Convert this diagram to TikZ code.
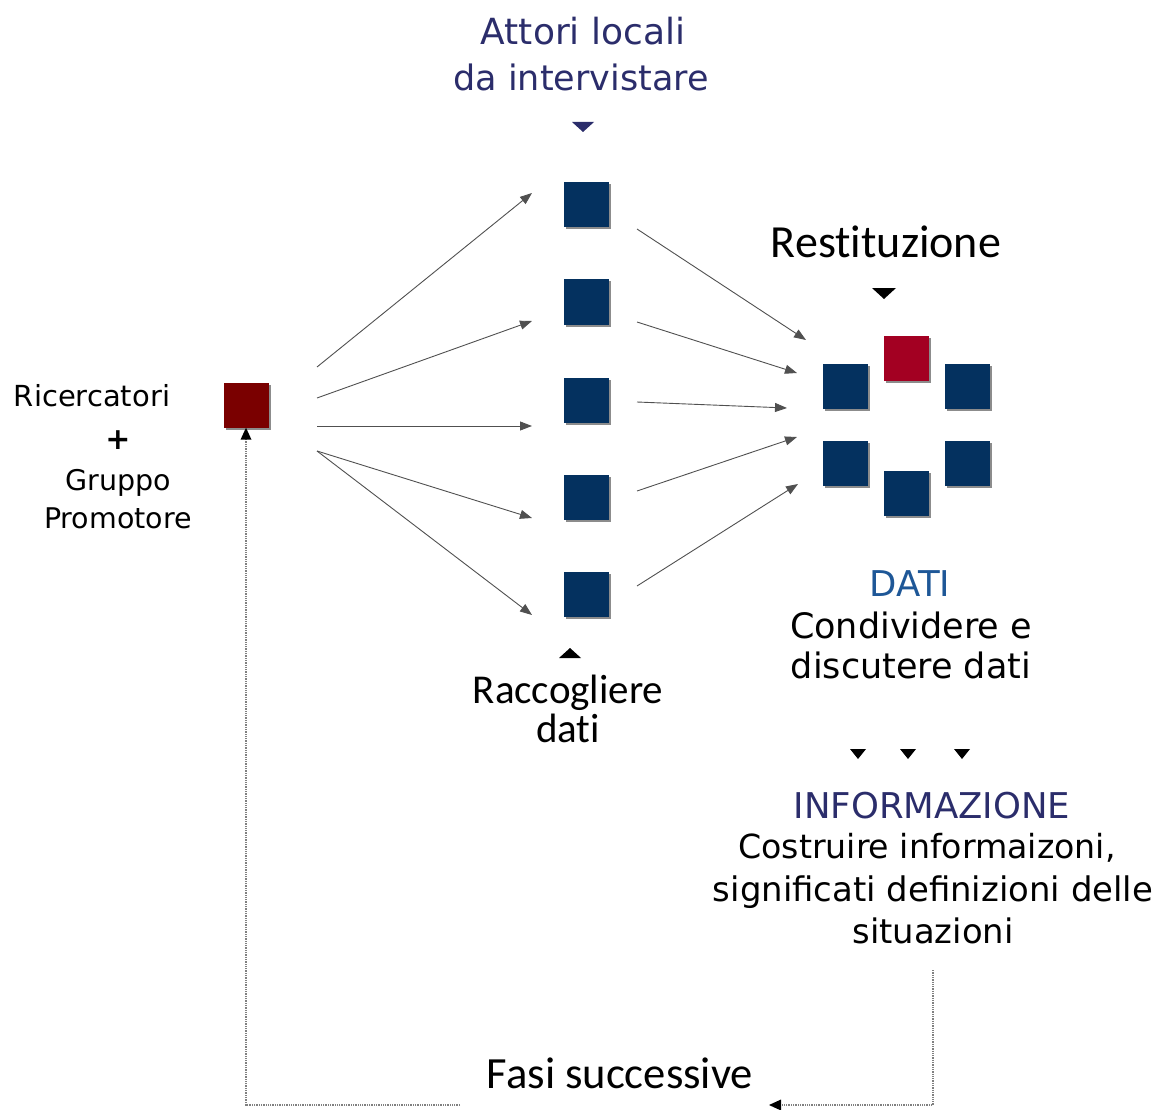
\documentclass[tikz,border=0pt]{standalone}
\usepackage{fontspec}
\setmainfont{DejaVu Sans}
\newfontfamily\calib[Ligatures=NoCommon]{Carlito}
\usetikzlibrary{arrows.meta,shadows,calc}
\definecolor{navy}{HTML}{2B2D6B}
\definecolor{sqblue}{HTML}{04315F}
\definecolor{sqdred}{HTML}{7A0000}
\definecolor{sqred}{HTML}{A30022}
\definecolor{datiblue}{HTML}{1E5797}
\definecolor{arrgray}{HTML}{505050}
\begin{document}
\begin{tikzpicture}[x=1pt,y=-1pt,
  sq/.style={minimum size=45pt, inner sep=0pt, draw=none,
    drop shadow={shadow xshift=2pt,shadow yshift=-2pt,opacity=0.45,fill=black}},
  bsq/.style={sq, fill=sqblue},
  lbl/.style={inner sep=0pt, anchor=base},
  fs/.style={font=\fontsize{#1}{#1}\selectfont},
  cfs/.style={font=\calib\fontsize{#1}{#1}\selectfont},
  arr/.style={draw=arrgray, line width=0.9pt, -{Triangle[length=12pt,width=9pt]}},
  fb/.style={draw=gray, line width=1.3pt, densely dotted},
  tri/.style={fill=black}
]
\useasboundingbox (0,0) rectangle (1157,1110);

% ---- squares
\node[sq, fill=sqdred] (r) at (246,405) {};
\foreach \i/\y in {1/205,2/302,3/400,4/497,5/594}
  \node[bsq] (c\i) at (586,\y) {};
\node[sq, fill=sqred] (k0) at (906,358) {};
\node[bsq] (k1) at (845,386) {};
\node[bsq] (k2) at (967,386) {};
\node[bsq] (k3) at (845,463) {};
\node[bsq] (k4) at (967,463) {};
\node[bsq] (k5) at (906,493) {};

% ---- texts
\node[lbl, fs=36, text=navy] (t1) at (583,45) {Attori locali};
\node[lbl, fs=35, text=navy] (t2) at (581,91) {da intervistare};
\node[lbl, cfs=46] (rest) at (886,258) {Restituzione};
\node[lbl, fs=29] (ric) at (92,406) {Ricercatori};
\node[font=\bfseries\fontsize{30}{30}\selectfont, inner sep=0pt] (plus) at (118,440) {+};
\node[lbl, fs=28.5] (grp) at (118,490) {Gruppo};
\node[lbl, fs=28.5] (prm) at (118,528) {Promotore};
\node[lbl, cfs=41] (racc) at (568,703) {Raccogliere};
\node[lbl, cfs=41] (rdati) at (568,742) {dati};
\node[lbl, fs=35.5, text=datiblue] (dati) at (910,596) {DATI};
\node[lbl, fs=35] (cond) at (911,638) {Condividere e};
\node[lbl, fs=35] (disc) at (911,678) {discutere dati};
\node[lbl, fs=35.5, text=navy] (info) at (932,818) {INFORMAZIONE};
\node[lbl, fs=33.2] (cos) at (927,858) {Costruire informaizoni,};
\node[lbl, fs=33.9] (sig) at (933,901) {significati definizioni delle};
\node[lbl, fs=33.8] (sit) at (933,943) {situazioni};
\node[lbl, cfs=44.6] (fasi) at (620,1088) {Fasi successive};

% ---- small triangles
\fill[navy] (572,122) -- (594,122) -- (583,132) -- cycle;
\fill[tri] (559,658) -- (581,658) -- (570,648) -- cycle;
\fill[tri] (872,288) -- (896,288) -- (884,299) -- cycle;
\foreach \x in {858,908,962}
  \fill[tri] (\x-8,749) -- (\x+8,749) -- (\x,759) -- cycle;

% ---- fan arrows to the column
\coordinate (fs1) at (317,367);
\coordinate (fs2) at (317,398);
\coordinate (fs3) at (317,426);
\coordinate (fs4) at (317,451);
\coordinate (ft1) at (532,193);
\coordinate (ft2) at (532,321);
\coordinate (ft3) at (532,426);
\coordinate (ft4) at (532,518);
\coordinate (ft5) at (532,615);
\draw[arr] (fs1) -- (ft1);
\draw[arr] (fs2) -- (ft2);
\draw[arr] (fs3) -- (ft3);
\draw[arr] (fs4) -- (ft4);
\draw[arr] (fs4) -- (ft5);

% ---- arrows from column to cluster
\coordinate (gs1) at (637,229);
\coordinate (gs2) at (637,322);
\coordinate (gs3) at (637,402);
\coordinate (gs4) at (637,491);
\coordinate (gs5) at (637,586);
\coordinate (gt1) at (806,340);
\coordinate (gt2) at (797,373);
\coordinate (gt3) at (787,408);
\coordinate (gt4) at (797,437);
\coordinate (gt5) at (798,484);
\foreach \i in {1,...,5}
  \draw[arr] (gs\i) -- (gt\i);

% ---- feedback loop
\coordinate (fbs) at (933,970);
\coordinate (fbe) at (769,1105);
\coordinate (fbl) at (460,1105);
\draw[fb] (fbs) |- ($(fbe)+(8,0)$);
\draw[fb] (fbl) -| ($(r.south)+(0,8)$);
\fill[black] (fbe) -- ++(12,-5.5) -- ++(0,11) -- cycle;
\fill[black] (r.south) -- ++(-5.5,12) -- ++(11,0) -- cycle;
\end{tikzpicture}
\end{document}
